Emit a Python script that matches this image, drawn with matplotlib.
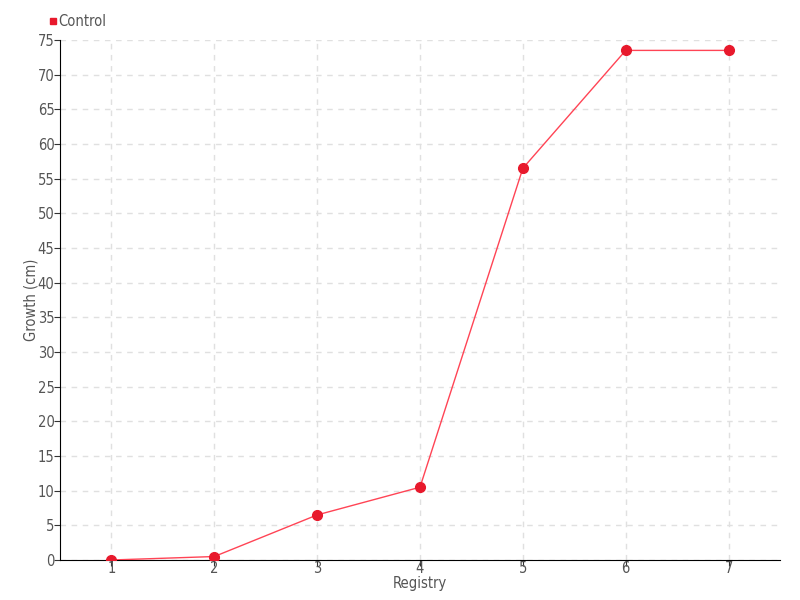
import matplotlib
matplotlib.use('Agg')
import matplotlib.pyplot as plt
from matplotlib.lines import Line2D

# data
registry = [1, 2, 3, 4, 5, 6, 7]
control = [0, 0.5, 6.5, 10.5, 56.5, 73.5, 73.5]

plt.rcParams['font.family'] = ['DejaVu Sans']
plt.rcParams['font.stretch'] = 'condensed'
txt = '#555555'
red = '#e8192c'

fig = plt.figure(figsize=(8, 6), dpi=100)
ax = fig.add_axes([60/800, 40/600, 720/800, 520/600])

ax.plot(registry, control, color='#ff4455', linewidth=1, marker='o',
        markersize=7, markerfacecolor=red, markeredgecolor=red, zorder=3)

ax.set_xlim(0.5, 7.5)
ax.set_ylim(0, 75)
ax.set_xticks(registry)
ax.set_yticks(range(0, 80, 5))
ax.grid(True, linestyle=(0, (4, 4)), color='#e0e0e0', linewidth=1)
ax.set_axisbelow(True)

for s in ['top', 'right']:
    ax.spines[s].set_visible(False)
ax.spines['left'].set_color('black')
ax.spines['bottom'].set_color('black')
ax.tick_params(axis='y', colors='#333333', labelcolor=txt, labelsize=10.5, length=4, pad=0)
ax.tick_params(axis='x', colors='#333333', labelcolor=txt, labelsize=10.5, length=4, pad=-3)

ax.set_xlabel('Registry', color=txt, fontsize=10.5)
ax.xaxis.set_label_coords(0.5, -16/520)
ax.set_ylabel('Growth (cm)', color=txt, fontsize=10.5)
ax.yaxis.set_label_coords(-21/720, 0.5)

handle = Line2D([0], [0], marker='s', color='w', markerfacecolor=red,
                markeredgecolor=red, markersize=5, linestyle='None')
fig.legend([handle], ['Control'], loc='upper left', bbox_to_anchor=(0.044, 0.998),
           frameon=False, fontsize=10.5, handletextpad=0.1, handlelength=0.6,
           labelcolor=txt)

fig.savefig('out.png', dpi=100)
